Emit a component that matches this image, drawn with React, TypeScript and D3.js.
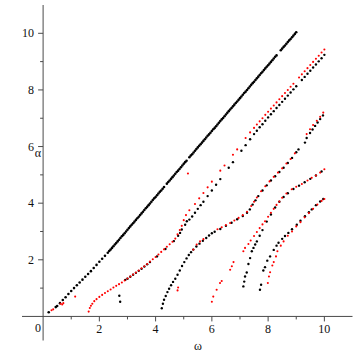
import React from "react";
import * as d3 from "d3";

type P = [number, number];

const xTicksMajor = [2, 4, 6, 8, 10];
const xTicksMinor = [1, 3, 5, 7, 9];
const yTicksMajor = [2, 4, 6, 8, 10];
const yTicksMinor = [1, 3, 5, 7, 9];

// Curve A (top black line)
const blackA: P[] = [
  [0.2, 0.15], [0.45, 0.33], [0.5, 0.37], [0.6, 0.47], [0.7, 0.58], [0.8, 0.68], [0.9, 0.79], [1.0, 0.9],
  [1.1, 1.0], [1.2, 1.1], [1.3, 1.2], [1.4, 1.3], [1.5, 1.4], [1.6, 1.5], [1.7, 1.6], [1.8, 1.71],
  [1.9, 1.82], [2.0, 1.93], [2.1, 2.04], [2.2, 2.14], [2.3, 2.25], [2.4, 2.36], [2.5, 2.48], [2.6, 2.59],
  [2.7, 2.71], [2.8, 2.83], [2.9, 2.94], [3.0, 3.06], [3.1, 3.18], [3.2, 3.29], [3.3, 3.41], [3.4, 3.52],
  [3.5, 3.64], [3.6, 3.76], [3.7, 3.87], [3.8, 3.99], [3.9, 4.11], [4.0, 4.22], [4.1, 4.34], [4.2, 4.45],
  [4.3, 4.57], [4.4, 4.69], [4.5, 4.8], [4.6, 4.92], [4.7, 5.04], [4.8, 5.15], [4.9, 5.27], [5.0, 5.39],
  [5.1, 5.5], [5.2, 5.62], [5.3, 5.73], [5.4, 5.85], [5.5, 5.97], [5.6, 6.08], [5.7, 6.2], [5.8, 6.32],
  [5.9, 6.43], [6.0, 6.55], [6.1, 6.66], [6.2, 6.78], [6.3, 6.9], [6.4, 7.01], [6.5, 7.13], [6.6, 7.25],
  [6.7, 7.36], [6.8, 7.48], [6.9, 7.59], [7.0, 7.71], [7.1, 7.83], [7.2, 7.94], [7.3, 8.06], [7.4, 8.18],
  [7.5, 8.29], [7.6, 8.41], [7.7, 8.53], [7.8, 8.64], [7.9, 8.76], [8.0, 8.87], [8.1, 8.99], [8.2, 9.11],
  [8.3, 9.22], [8.45, 9.4], [8.5, 9.46], [8.6, 9.57], [8.7, 9.69], [8.8, 9.8], [8.9, 9.92], [9.0, 10.04],
  [2.35, 2.31], [2.45, 2.42], [2.55, 2.54], [2.65, 2.65], [2.75, 2.77], [2.85, 2.88], [2.95, 3.0], [3.05, 3.12],
  [3.15, 3.24], [3.25, 3.35], [3.35, 3.47], [3.45, 3.58], [3.55, 3.7], [3.65, 3.82], [3.75, 3.93], [3.85, 4.05],
  [3.95, 4.17], [4.05, 4.28], [4.15, 4.4], [4.25, 4.51], [4.45, 4.75], [4.55, 4.86], [4.65, 4.98], [4.75, 5.1],
  [4.85, 5.21], [4.95, 5.33], [5.05, 5.45], [5.25, 5.68], [5.35, 5.79], [5.45, 5.91], [5.55, 6.03], [5.65, 6.14],
  [5.75, 6.26], [5.85, 6.38], [5.95, 6.49], [6.05, 6.61], [6.15, 6.72], [6.25, 6.84], [6.35, 6.96], [6.45, 7.07],
  [6.55, 7.19], [6.65, 7.31], [6.75, 7.42], [6.85, 7.54], [6.95, 7.65], [7.05, 7.77], [7.15, 7.89], [7.25, 8.0],
  [7.35, 8.12], [7.45, 8.24], [7.55, 8.35], [7.65, 8.47], [7.75, 8.59], [7.85, 8.7], [7.95, 8.82], [8.05, 8.93],
  [8.15, 9.05], [8.25, 9.17], [8.55, 9.52], [8.65, 9.63], [8.75, 9.75], [8.85, 9.86], [8.95, 9.98],
];
const redA: P[] = [[0.3, 0.22], [0.36, 0.25], [0.62, 0.45], [0.68, 0.42], [0.72, 0.47], [1.14, 0.7]];

// Curve B (from omega ~1.6, ending near (10, 9.4))
const redB: P[] = [
  [1.62, 0.17], [1.66, 0.3], [1.7, 0.38], [1.75, 0.45], [1.82, 0.54], [1.9, 0.61], [2.0, 0.69], [2.1, 0.76],
  [2.2, 0.83], [2.3, 0.89], [2.4, 0.95], [2.5, 1.02], [2.6, 1.08], [2.7, 1.14], [2.8, 1.2], [2.9, 1.27],
  [3.0, 1.34], [3.1, 1.41], [3.2, 1.48], [3.3, 1.55], [3.4, 1.62], [3.5, 1.7], [3.6, 1.77], [3.7, 1.85],
  [3.8, 1.94], [3.9, 2.02], [4.0, 2.1], [4.1, 2.19], [4.2, 2.28], [4.3, 2.37], [4.4, 2.46], [4.5, 2.55],
  [4.6, 2.64], [4.7, 2.75], [4.78, 2.9], [4.86, 3.05], [4.93, 3.2], [5.0, 3.4], [5.08, 3.58], [5.2, 3.75],
  [5.4, 3.97], [5.55, 4.17], [5.7, 4.36], [5.85, 4.56], [6.0, 4.76], [6.3, 5.15], [6.45, 5.33],
  [6.75, 5.71], [6.9, 5.9], [7.2, 6.3], [7.36, 6.5], [7.5, 6.66], [7.6, 6.78], [7.7, 6.89], [7.8, 7.0],
  [7.9, 7.12], [8.0, 7.23], [8.1, 7.34], [8.2, 7.45], [8.3, 7.56], [8.4, 7.67], [8.5, 7.78], [8.6, 7.89],
  [8.7, 8.0], [8.8, 8.11], [8.9, 8.22], [9.1, 8.44], [9.2, 8.55], [9.3, 8.66], [9.4, 8.77], [9.5, 8.88],
  [9.6, 8.99], [9.7, 9.1], [9.8, 9.21], [9.9, 9.32], [10.0, 9.43],
];
const blackB: P[] = [
  [2.92, 1.29], [3.0, 1.33], [3.1, 1.4], [3.2, 1.47], [3.3, 1.54], [3.4, 1.61], [3.5, 1.68], [3.6, 1.76],
  [3.7, 1.84], [3.8, 1.92], [4.05, 2.12], [4.35, 2.38], [4.65, 2.66], [4.8, 2.85], [4.87, 2.95],
  [4.93, 3.07], [5.05, 3.24], [5.11, 3.36], [5.2, 3.42], [5.3, 3.53], [5.4, 3.66], [5.5, 3.8], [5.6, 3.93],
  [5.7, 4.05], [5.85, 4.25], [6.0, 4.45], [6.15, 4.65], [6.3, 4.85], [6.6, 5.25], [6.75, 5.45],
  [7.05, 5.85], [7.2, 6.05], [7.36, 6.26], [7.5, 6.44], [7.6, 6.56], [7.7, 6.68], [7.8, 6.79], [7.9, 6.91],
  [8.0, 7.03], [8.1, 7.14], [8.2, 7.25], [8.3, 7.36], [8.4, 7.47], [8.5, 7.58], [8.6, 7.69], [8.7, 7.8],
  [8.8, 7.91], [8.9, 8.02], [9.0, 8.13], [9.2, 8.35], [9.3, 8.46], [9.4, 8.57], [9.5, 8.68], [9.6, 8.79],
  [9.7, 8.9], [9.8, 9.01], [9.9, 9.12], [10.0, 9.24],
];

// Curve C (steep black from omega ~4.2, ending near (10, 7.2))
const blackC: P[] = [
  [4.22, 0.29], [4.26, 0.45], [4.3, 0.59], [4.36, 0.72], [4.42, 0.86], [4.48, 0.98], [4.55, 1.1], [4.62, 1.22],
  [4.7, 1.33], [4.78, 1.47], [4.86, 1.62], [4.94, 1.78], [5.02, 1.92], [5.1, 2.05], [5.18, 2.17], [5.26, 2.27],
  [5.34, 2.36], [5.45, 2.47], [5.56, 2.57], [5.68, 2.67], [5.8, 2.77], [5.9, 2.86], [6.0, 2.94], [6.1, 2.99],
  [6.3, 3.09], [6.5, 3.2], [6.7, 3.31], [6.9, 3.43], [7.1, 3.55], [7.25, 3.66], [7.35, 3.78], [7.45, 3.95],
  [7.55, 4.1], [7.65, 4.25], [7.8, 4.45], [7.95, 4.63], [8.1, 4.8], [8.25, 4.95], [8.4, 5.1], [8.55, 5.25],
  [8.7, 5.42], [8.85, 5.6], [9.0, 5.8], [9.08, 5.9], [9.31, 6.14], [9.37, 6.3], [9.49, 6.48], [9.58, 6.6],
  [9.67, 6.73], [9.76, 6.85], [9.85, 6.97], [9.95, 7.1],
];
const redC: P[] = [
  [4.78, 0.92], [4.8, 1.02], [5.34, 2.36], [5.46, 2.54], [5.58, 2.65], [5.7, 2.73], [6.2, 3.08], [6.35, 3.15],
  [6.5, 3.23], [6.65, 3.3], [6.8, 3.39], [6.95, 3.48], [7.1, 3.58], [7.25, 3.7], [7.4, 3.9], [7.5, 4.05],
  [7.6, 4.2], [7.75, 4.42], [7.9, 4.6], [8.05, 4.77], [8.2, 4.93], [8.35, 5.08], [8.5, 5.23], [8.65, 5.4],
  [8.8, 5.56], [8.95, 5.76], [9.37, 6.44], [9.49, 6.61], [9.6, 6.76], [9.73, 6.91], [9.85, 7.05], [9.96, 7.2],
];

// Curve D (ending near (10, 5.2))
const redD: P[] = [
  [6.0, 0.52], [6.05, 0.7], [6.17, 0.94], [6.29, 1.18], [6.35, 1.25], [6.65, 1.65], [6.71, 1.77], [6.77, 1.92],
  [7.12, 2.3], [7.18, 2.42], [7.3, 2.56], [7.38, 2.68], [7.5, 2.84], [7.6, 2.98], [7.7, 3.12], [7.8, 3.25],
  [7.89, 3.36], [8.0, 3.52], [8.1, 3.66], [8.2, 3.8], [8.3, 3.94], [8.4, 4.06], [8.5, 4.19], [8.65, 4.34],
  [8.84, 4.49], [9.0, 4.58], [9.2, 4.68], [9.4, 4.8], [9.55, 4.9], [9.7, 4.98], [9.85, 5.08], [10.0, 5.2],
];
const blackD: P[] = [
  [7.12, 1.06], [7.15, 1.23], [7.18, 1.41], [7.24, 1.55], [7.3, 1.85], [7.36, 2.06], [7.42, 2.3], [7.48, 2.42],
  [7.54, 2.54], [7.6, 2.65], [7.7, 2.85], [7.8, 3.05], [7.95, 3.35], [8.1, 3.6], [8.25, 3.85], [8.4, 4.05],
  [8.55, 4.22], [8.7, 4.35], [8.9, 4.5], [9.1, 4.62], [9.3, 4.74], [9.5, 4.86], [9.7, 4.98], [9.9, 5.12],
];

// Curve E (lowest, ending near (10, 4.1))
const blackE: P[] = [
  [7.71, 0.94], [7.75, 1.12], [7.83, 1.62], [7.89, 1.74], [7.97, 1.97], [8.07, 2.12], [8.2, 2.35], [8.3, 2.5],
  [8.37, 2.6], [8.5, 2.74], [8.6, 2.84], [8.72, 2.95], [8.85, 3.08], [9.02, 3.24], [9.15, 3.38], [9.31, 3.54],
  [9.45, 3.68], [9.55, 3.78], [9.7, 3.93], [9.85, 4.06], [9.96, 4.15],
];
const redE: P[] = [
  [7.99, 1.18], [8.03, 1.41], [8.07, 1.56], [8.15, 1.8], [8.2, 1.92], [8.28, 2.12], [8.33, 2.3], [8.45, 2.5],
  [8.55, 2.65], [8.7, 2.85], [8.85, 3.0], [9.0, 3.18], [9.15, 3.33], [9.3, 3.5], [9.45, 3.65], [9.6, 3.8],
  [9.75, 3.95], [9.9, 4.08], [10.0, 4.15],
];

const blackIsolated: P[] = [[2.71, 0.73], [2.74, 0.52]];
const redIsolated: P[] = [[5.15, 5.05]];

const blackSeries = [blackA, blackB, blackC, blackD, blackE, blackIsolated];
const redSeries = [redA, redB, redC, redD, redE, redIsolated];

const W = 357;
const H = 357;
const FONT = "'Liberation Serif', 'Times New Roman', serif";

export default function App() {
  const x = d3.scaleLinear().domain([-0.75, 11]).range([22, 352.5]);
  const y = d3.scaleLinear().domain([-0.85, 11]).range([340.5, 5]);
  const x0 = x(0);
  const y0 = y(0);
  const axisColor = "#4a4a4a";

  return (
    <svg
      width={W}
      height={H}
      style={{ position: "absolute", left: 0, top: 0, background: "#fff" }}
      fontFamily={FONT}
    >
      <rect width={W} height={H} fill="#fff" />
      {/* axes */}
      <line x1={x(-0.75)} x2={x(11)} y1={y0} y2={y0} stroke={axisColor} strokeWidth={1} />
      <line x1={x0} x2={x0} y1={y(11)} y2={y(-0.85)} stroke={axisColor} strokeWidth={1} />
      {xTicksMajor.map((t) => (
        <g key={"xm" + t}>
          <line x1={x(t)} x2={x(t)} y1={y0} y2={y0 + 5} stroke={axisColor} />
          <text x={x(t)} y={y0 + 16.5} fontSize={12} textAnchor="middle" fill="#111">
            {t}
          </text>
        </g>
      ))}
      {xTicksMinor.map((t) => (
        <line key={"xn" + t} x1={x(t)} x2={x(t)} y1={y0} y2={y0 + 3} stroke={axisColor} />
      ))}
      {yTicksMajor.map((t) => (
        <g key={"ym" + t}>
          <line x1={x0 - 5} x2={x0} y1={y(t)} y2={y(t)} stroke={axisColor} />
          <text x={x0 - 9} y={y(t) + 4} fontSize={12} textAnchor="end" fill="#111">
            {t}
          </text>
        </g>
      ))}
      {yTicksMinor.map((t) => (
        <line key={"yn" + t} x1={x0 - 3} x2={x0} y1={y(t)} y2={y(t)} stroke={axisColor} />
      ))}
      <text x={x0 - 5} y={y0 + 16} fontSize={12} textAnchor="middle" fill="#111">
        0
      </text>
      <text x={38} y={157} fontSize={12} textAnchor="middle" fill="#111">
        α
      </text>
      <text x={198} y={350} fontSize={12} textAnchor="middle" fill="#111">
        ω
      </text>

      {/* points */}
      {blackSeries.map((s, i) => (
        <g key={"b" + i} fill="#000">
          {s.map((p, j) => (
            <circle key={j} cx={x(p[0])} cy={y(p[1])} r={i === 0 ? 1.3 : 1.2} />
          ))}
        </g>
      ))}
      {redSeries.map((s, i) => (
        <g key={"r" + i} fill="#ff0000">
          {s.map((p, j) => (
            <circle key={j} cx={x(p[0])} cy={y(p[1])} r={1.05} />
          ))}
        </g>
      ))}
    </svg>
  );
}
